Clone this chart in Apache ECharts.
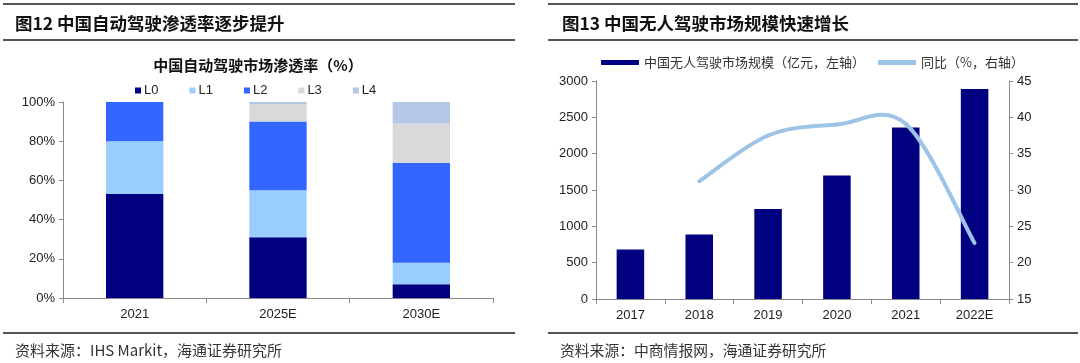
<!DOCTYPE html>
<html>
<head>
<meta charset="utf-8">
<script src="https://cdn.jsdelivr.net/npm/echarts@6/dist/echarts.min.js"></script>
<style>
html,body{margin:0;padding:0;background:#fff;}
#c{width:1080px;height:363px;}
</style>
</head>
<body>
<div id="c"></div>
<script>
// Left chart: China autonomous driving penetration (%)
const penCategories = ['2021', '2025E', '2030E'];
const penL0 = [53, 31, 7];
const penL1 = [27, 24, 11];
const penL2 = [20, 35, 51];
const penL3 = [0, 9, 20];
const penL4 = [0, 1, 11];
const penTicks = [0, 20, 40, 60, 80, 100];

// Right chart: China driverless market size
const mktCategories = ['2017', '2018', '2019', '2020', '2021', '2022E'];
const mktSize = [680, 886, 1240, 1700, 2360, 2890];
const mktYoY = [null, 31.2, 37.5, 39.0, 39.1, 22.7];

const FONT = "'Liberation Sans', Arial, 'Noto Sans CJK SC', sans-serif";
const CJK = "'Noto Sans CJK SC', 'Liberation Sans', sans-serif";
const penColors = ['#000080', '#99CCFF', '#3366FF', '#D9D9D9', '#B4C7E7'];
const penNames = ['L0', 'L1', 'L2', 'L3', 'L4'];
const penData = [penL0, penL1, penL2, penL3, penL4];
const LINE_COLOR = '#9DC3E6';

const chart = echarts.init(document.getElementById('c'), null, {renderer: 'canvas'});

const axisLabelStyle = {color: '#222', fontSize: 13, fontFamily: FONT};
const axisLineStyle = {lineStyle: {color: '#8a8a8a', width: 1}};

const series = [];
penNames.forEach((n, i) => {
  series.push({
    name: n, type: 'bar', stack: 'pen', xAxisIndex: 0, yAxisIndex: 0,
    data: penData[i], barWidth: '40%',
    itemStyle: {color: penColors[i]},
    emphasis: {disabled: true}
  });
});
series.push({
  name: '中国无人驾驶市场规模（亿元，左轴）', type: 'bar', xAxisIndex: 1, yAxisIndex: 1,
  data: mktSize, barWidth: '40%', itemStyle: {color: '#000080'}, emphasis: {disabled: true}
});

// Smoothed YoY line (Catmull-Rom style, like the spreadsheet original), positioned via api.coord
function yoyPoint(api, i) {
  if (i < 0 || i >= mktYoY.length || mktYoY[i] == null) return null;
  return api.coord([i, mktYoY[i]]);
}
series.push({
  name: '同比（%，右轴）', type: 'custom', xAxisIndex: 1, yAxisIndex: 2,
  data: mktYoY.map((v, i) => [i, v == null ? '-' : v]),
  itemStyle: {color: LINE_COLOR},
  silent: true, z: 10, clip: false,
  renderItem: function (params, api) {
    const i = params.dataIndex;
    const p1 = yoyPoint(api, i);
    const p2 = yoyPoint(api, i + 1);
    if (!p1 || !p2) return null;
    const p0 = yoyPoint(api, i - 1) || p1;
    const p3 = yoyPoint(api, i + 2) || p2;
    const t = 1 / 6;
    return {
      type: 'bezierCurve', z2: 100,
      shape: {
        x1: p1[0], y1: p1[1], x2: p2[0], y2: p2[1],
        cpx1: p1[0] + (p2[0] - p0[0]) * t, cpy1: p1[1] + (p2[1] - p0[1]) * t,
        cpx2: p2[0] - (p3[0] - p1[0]) * t, cpy2: p2[1] - (p3[1] - p1[1]) * t
      },
      style: {stroke: LINE_COLOR, lineWidth: 4, fill: null, lineCap: 'round'}
    };
  }
});

const hline = (x1, x2, y) => ({
  type: 'line', shape: {x1: x1, y1: y, x2: x2, y2: y},
  style: {stroke: '#555', lineWidth: 2}, silent: true
});
const txt = (x, y, text, size, weight, color, align) => ({
  type: 'text', x: x, y: y, silent: true,
  style: {text: text, fontSize: size, fontWeight: weight, fill: color,
          fontFamily: CJK, align: align || 'left', verticalAlign: 'middle'}
});

chart.setOption({
  animation: false,
  backgroundColor: '#fff',
  grid: [
    {left: 63, right: 587, top: 102, bottom: 65, containLabel: false},
    {left: 596, right: 71, top: 81, bottom: 64, containLabel: false}
  ],
  legend: [
    {
      data: penNames, left: 130, top: 79, itemWidth: 6, itemHeight: 6,
      itemGap: 31, icon: 'rect',
      textStyle: {fontSize: 13, color: '#222', fontFamily: FONT, padding: [0, 0, 0, -2]}
    },
    {
      data: [{name: '中国无人驾驶市场规模（亿元，左轴）', icon: 'rect'},
             {name: '同比（%，右轴）', icon: 'rect'}],
      left: 596, top: 51, itemWidth: 38, itemHeight: 5, itemGap: 13,
      textStyle: {fontSize: 13, color: '#333', fontFamily: CJK}
    }
  ],
  xAxis: [
    {
      type: 'category', gridIndex: 0, data: penCategories,
      axisLine: axisLineStyle, axisTick: {show: true, alignWithLabel: false, length: 5, lineStyle: {color: '#8a8a8a'}},
      axisLabel: Object.assign({margin: 10}, axisLabelStyle), splitLine: {show: false}
    },
    {
      type: 'category', gridIndex: 1, data: mktCategories,
      axisLine: axisLineStyle, axisTick: {show: true, length: 5, lineStyle: {color: '#8a8a8a'}},
      axisLabel: Object.assign({margin: 10}, axisLabelStyle), splitLine: {show: false}
    }
  ],
  yAxis: [
    {
      type: 'value', gridIndex: 0, min: 0, max: 100, interval: 20,
      axisLine: {show: true, lineStyle: {color: '#8a8a8a'}},
      axisTick: {show: true, length: 4, lineStyle: {color: '#8a8a8a'}},
      axisLabel: Object.assign({margin: 8, formatter: v => v + '%'}, axisLabelStyle),
      splitLine: {show: false}
    },
    {
      type: 'value', gridIndex: 1, min: 0, max: 3000, interval: 500,
      axisLine: {show: true, lineStyle: {color: '#8a8a8a'}},
      axisTick: {show: true, length: 4, lineStyle: {color: '#8a8a8a'}},
      axisLabel: Object.assign({margin: 8, formatter: v => String(v)}, axisLabelStyle),
      splitLine: {show: false}
    },
    {
      type: 'value', gridIndex: 1, position: 'right', min: 15, max: 45, interval: 5,
      axisLine: {show: true, lineStyle: {color: '#8a8a8a'}},
      axisTick: {show: true, length: 4, lineStyle: {color: '#8a8a8a'}},
      axisLabel: Object.assign({margin: 8, formatter: v => String(v)}, axisLabelStyle),
      splitLine: {show: false}
    }
  ],
  series: series,
  graphic: [
    hline(3, 515, 4), hline(3, 515, 40), hline(3, 515, 333),
    hline(548, 1078, 4), hline(548, 1078, 40), hline(548, 1078, 333),
    txt(15, 23, '图12 中国自动驾驶渗透率逐步提升', 17.5, 'bold', '#111'),
    txt(562, 23, '图13 中国无人驾驶市场规模快速增长', 17.5, 'bold', '#111'),
    txt(258, 65, '中国自动驾驶市场渗透率（%）', 15, 'bold', '#111', 'center'),
    txt(15, 350, '资料来源：IHS Markit，海通证券研究所', 15, 'normal', '#333'),
    txt(560, 350, '资料来源：中商情报网，海通证券研究所', 14.8, 'normal', '#333')
  ]
});
</script>
</body>
</html>
